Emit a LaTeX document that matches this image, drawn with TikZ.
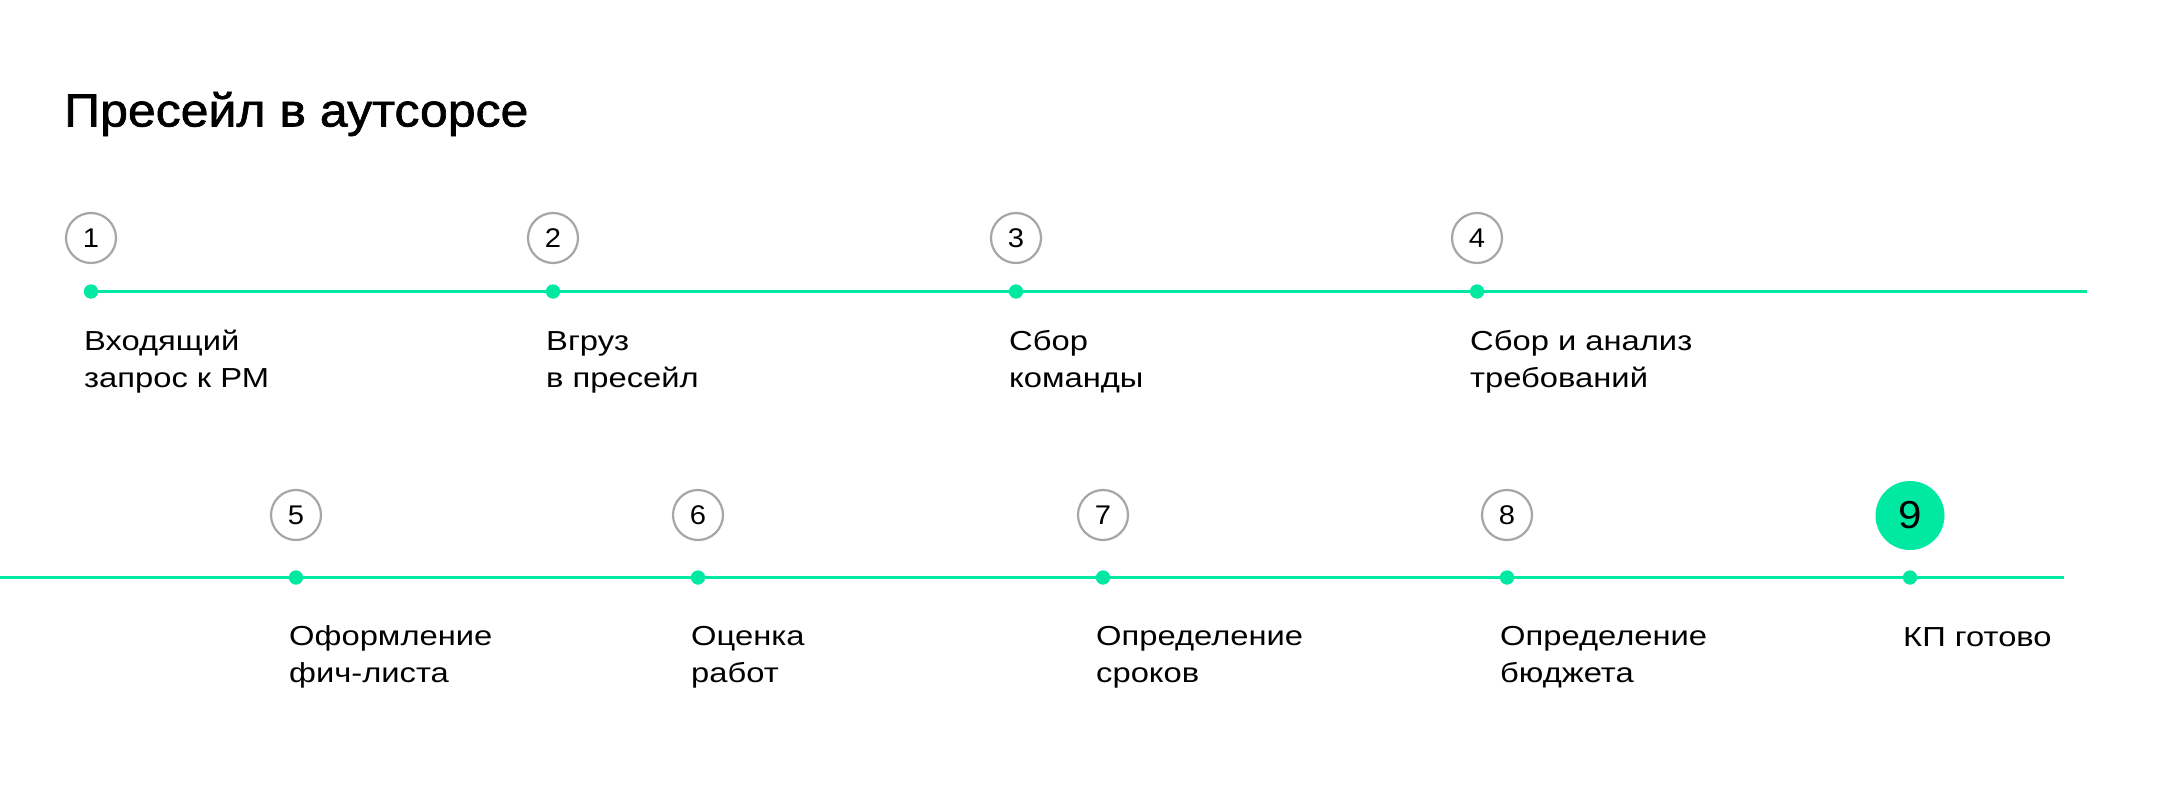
\documentclass[tikz,border=0pt]{standalone}
\usepackage{fontspec}
\setmainfont{Liberation Sans}
\newfontfamily\titlefont{Liberation Sans}[FakeStretch=1.075,FakeBold=1.4]
\newfontfamily\labelfont{Liberation Sans}[FakeStretch=1.19]
\newfontfamily\digitfont{Liberation Sans}[FakeStretch=1.08]
\definecolor{mint}{HTML}{00E9A3}
\definecolor{ringgray}{HTML}{A6A6A6}
\begin{document}
\begin{tikzpicture}[x=1pt,y=-1pt,
  ring/.style={circle,draw=ringgray,line width=2.2pt,minimum size=50pt,inner sep=0pt,font=\digitfont\fontsize{27}{30}\selectfont},
  finalring/.style={circle,fill=mint,minimum size=69pt,inner sep=0pt,font=\digitfont\fontsize{39}{42}\selectfont},
  dot/.style={circle,fill=mint,minimum size=14pt,inner sep=0pt},
  track/.style={draw=mint,line width=3pt},
  label/.style={anchor=base west,align=left,inner sep=0pt,font=\labelfont\fontsize{27.5}{37}\selectfont},
  title/.style={anchor=base west,inner sep=0pt,font=\titlefont\fontsize{46.5}{50}\selectfont}
]
\useasboundingbox[fill=white] (0,0) rectangle (2160,792);
\node[title] (t) at (64,126.5) {Пресейл в аутсорсе};
% top row
\foreach \i/\x in {1/91,2/553,3/1016,4/1477}{
  \node[ring] (c\i) at (\x,238) {\i};
  \node[dot] (d\i) at (\x,291.5) {};
}
\coordinate (e1) at (2087,291.5);
\draw[track] (d1.center) -- (d2.center) -- (d3.center) -- (d4.center) -- (e1);
\node[label] (l1) at (84,387) {Входящий\\запрос к РМ};
\node[label] (l2) at (546,387) {Вгруз\\в пресейл};
\node[label] (l3) at (1009,387) {Сбор\\команды};
\node[label] (l4) at (1470,387) {Сбор и анализ\\требований};
% bottom row
\foreach \i/\x in {5/296,6/698,7/1103,8/1507}{
  \node[ring] (c\i) at (\x,515) {\i};
  \node[dot] (d\i) at (\x,577.5) {};
}
\node[finalring] (c9) at (1910,515.5) {9};
\node[dot] (d9) at (1910,577.5) {};
\coordinate (s2) at (0,577.5);
\coordinate (e2) at (2064,577.5);
\draw[track] (s2) -- (d5.center) -- (d6.center) -- (d7.center) -- (d8.center) -- (d9.center) -- (e2);
\foreach \i in {1,...,9}{\node[dot] at (d\i) {};}
\node[label] (l5) at (289,682) {Оформление\\фич-листа};
\node[label] (l6) at (691,682) {Оценка\\работ};
\node[label] (l7) at (1096,682) {Определение\\сроков};
\node[label] (l8) at (1500,682) {Определение\\бюджета};
\node[label] (l9) at (1903,646) {КП готово};
\end{tikzpicture}
\end{document}
